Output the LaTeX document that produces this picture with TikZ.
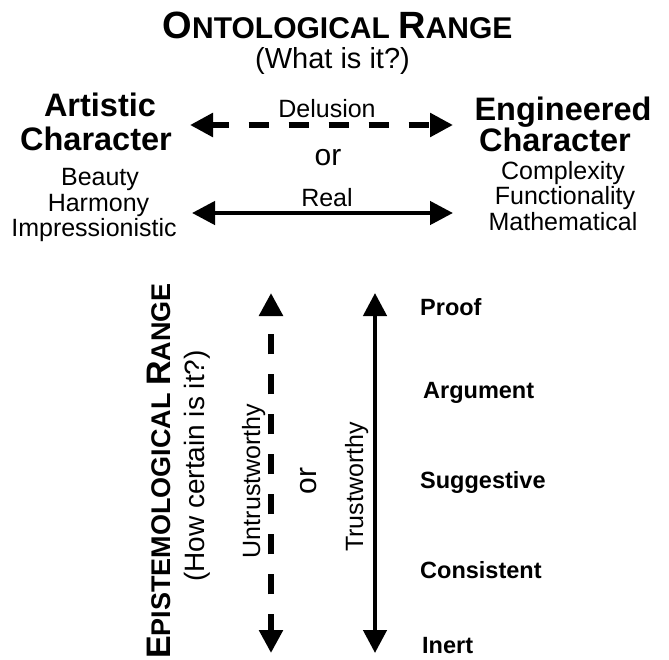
\documentclass[tikz,border=0pt]{standalone}
\usepackage{fontspec}
\setmainfont{Liberation Sans}
\usetikzlibrary{arrows.meta}

\begin{document}
\begin{tikzpicture}[x=1pt, y=-1pt, line join=miter, >={Triangle[length=23pt,width=23pt]},
	every node/.style={inner sep=0pt, text=black},
	txt/.style={anchor=base, font=\fontsize{25}{25}\selectfont},
	head/.style={anchor=base, font=\fontsize{32.5}{32.5}\selectfont\bfseries},
	level/.style={anchor=base west, font=\fontsize{23.5}{23.5}\selectfont\bfseries},
	dasharrow/.style={<->, line width=5.5pt, dash pattern=on 20pt off 20pt, dash phase=3pt},
	fullarrow/.style={<->, line width=4.5pt}]

			\useasboundingbox (0,0) rectangle (669,659);

			% ontological range
			\node[anchor=base, font=\bfseries] (onto) at (337.5,38) {{\fontsize{38}{38}\selectfont O}{\fontsize{30}{30}\selectfont NTOLOGICAL }{\fontsize{38}{38}\selectfont R}{\fontsize{30}{30}\selectfont ANGE}};

			\node[anchor=base, font=\fontsize{29}{29}\selectfont] (what) at (332.5,68) {(What is it?)};

			\node[head] (art1) at (100,116) {Artistic};
			\node[head] (art2) at (96,150) {Character};
			\node[txt] (beauty) at (100,185) {Beauty};
			\node[txt] (harmony) at (98.5,211) {Harmony};
			\node[txt] (impress) at (94,236) {Impressionistic};

			\node[head] (eng1) at (563,120) {Engineered};
			\node[head] (eng2) at (555,151) {Character};
			\node[txt] (complex) at (563,179) {Complexity};
			\node[txt] (function) at (565,204) {Functionality};
			\node[txt] (math) at (563,230) {Mathematical};

			\node[txt] (delusion) at (327,117) {Delusion};
			\node[anchor=base, font=\fontsize{30}{30}\selectfont] (or1) at (328,165) {or};
			\node[txt] (real) at (327,206) {Real};

			\coordinate (DL) at (190,125);
			\coordinate (DR) at (453,125);
			\coordinate (RL) at (192,213);
			\coordinate (RR) at (453,213);

			\draw[dasharrow] (DL)--(DR);

			\draw[fullarrow] (RL)--(RR);

			% epistemological range
			\node[anchor=base, rotate=90, font=\bfseries] (episte) at (170,471) {{\fontsize{34}{34}\selectfont E}{\fontsize{27}{27}\selectfont PISTEMOLOGICAL }{\fontsize{34}{34}\selectfont R}{\fontsize{27}{27}\selectfont ANGE}};

			\node[anchor=base, rotate=90, font=\fontsize{28}{28}\selectfont] (how) at (204,466) {(How certain is it?)};

			\node[txt, rotate=90] (untrust) at (260,481) {Untrustworthy};
			\node[anchor=base, rotate=90, font=\fontsize{30}{30}\selectfont] (or2) at (316,481) {or};
			\node[txt, rotate=90] (trust) at (363,487) {Trustworthy};

			\coordinate (UT) at (271,293);
			\coordinate (UB) at (271,653);
			\coordinate (TT) at (375,293);
			\coordinate (TB) at (375,653);

			\draw[dasharrow] (UB)--(UT);

			\draw[fullarrow] (TB)--(TT);

			\node[level] (proof) at (420,315) {Proof};
			\node[level] (argument) at (423,398) {Argument};
			\node[level] (suggest) at (420,488) {Suggestive};
			\node[level] (consist) at (420,578) {Consistent};
			\node[level] (inert) at (422,653) {Inert};

	\end{tikzpicture}
\end{document}
